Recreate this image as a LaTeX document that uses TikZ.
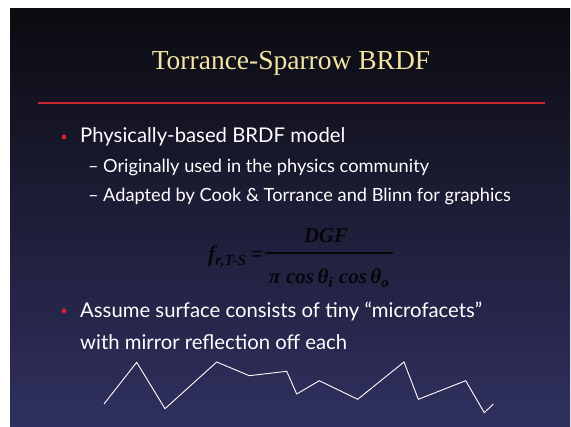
\documentclass[tikz,border=0pt]{standalone}
\usepackage{fontspec}
\setmainfont{Liberation Serif}
\newfontfamily\bodyfont{Lato}
\newfontfamily\titlefont{Liberation Serif}
\newfontfamily\formfont{Liberation Serif}
\definecolor{titlecol}{HTML}{F2E4A2}
\definecolor{redline}{HTML}{C6282B}
\definecolor{bgtop}{HTML}{0B0B10}
\definecolor{bgbot}{HTML}{303060}
\definecolor{bulletred}{HTML}{C8262A}
\definecolor{formcol}{HTML}{060608}
\tikzset{
  body/.style={text=white, anchor=base west, inner sep=0pt, font=\bodyfont\fontsize{20.3}{24}\selectfont},
  sub/.style={text=white, anchor=base west, inner sep=0pt, font=\bodyfont\fontsize{18.2}{21}\selectfont},
  dot/.style={circle, fill=bulletred, inner sep=0pt, minimum size=5pt},
  form/.style={text=formcol, inner sep=0pt, font=\formfont\bfseries\itshape\fontsize{21}{24}\selectfont},
  facet/.style={draw=white, line width=0.9pt, line join=miter}
}
\begin{document}
\begin{tikzpicture}[x=1pt,y=-1pt]
\useasboundingbox (0,0) rectangle (571,427);
\fill[white] (0,0) rectangle (571,427);
\shade[top color=bgtop, bottom color=bgbot, middle color=bgtop!50!bgbot] (10,9) rectangle (570,427);
% title
\node[text=titlecol, font=\titlefont\fontsize{27.5}{30}\selectfont, anchor=base, inner sep=0pt] (title) at (291,70) {Torrance-Sparrow BRDF};
\coordinate (rl) at (38,103);
\coordinate (rr) at (545,103);
\draw[redline, line width=2pt] (rl) -- (rr);
% bullet 1
\node[dot] (b1) at (64,137) {};
\node[body] (t1) at (80,143) {Physically-based BRDF model};
\node[sub] (d1) at (88,173) {–};
\node[sub] (s1) at (103,173) {Originally used in the physics community};
\node[sub] (d2) at (88,202) {–};
\node[sub] (s2) at (103,202) {Adapted by Cook \& Torrance and Blinn for graphics};
% formula
\node[form, anchor=base east, font=\formfont\bfseries\itshape\fontsize{22}{24}\selectfont] (lhs) at (263,262) {f\textsubscript{r,T-S}\,=};
\node[form, anchor=base] (num) at (326,243) {DGF};
\node[form, anchor=base] (den) at (329,284) {π\;cos\,θ\textsubscript{i}\;cos\,θ\textsubscript{o}};
\coordinate (fl) at (265,253);
\coordinate (fr) at (393,253);
\draw[formcol, line width=1.8pt] (fl) -- (fr);
% bullet 2
\node[dot] (b2) at (64,311) {};
\node[body] (t2) at (80,318) {Assume surface consists of tiny “microfacets”};
\node[body] (t3) at (80,350) {with mirror reflection off each};
% microfacet profile
\draw[facet] (104,404) -- (136.7,362.3) -- (165,408.7) -- (216.7,362) -- (249.3,375.7) -- (286.7,371.3) -- (296.7,394) -- (319.3,380.7) -- (357.7,399.3) -- (404,362) -- (418.3,399.3) -- (465.7,380.7) -- (484.3,412.7) -- (493.3,404);
\end{tikzpicture}
\end{document}
